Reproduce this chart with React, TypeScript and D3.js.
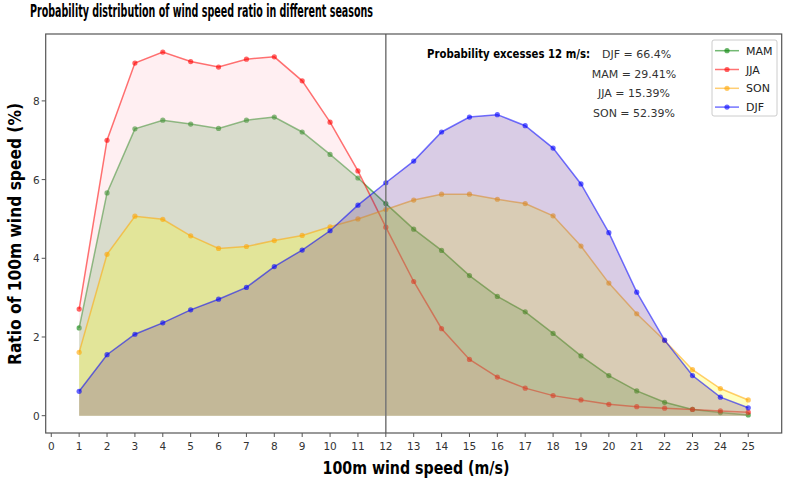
import { useMemo } from "react";
import * as d3 from "d3";

const W = 789;
const H = 482;

// wind speed bins (m/s)
const speeds = [1, 2, 3, 4, 5, 6, 7, 8, 9, 10, 11, 12, 13, 14, 15, 16, 17, 18, 19, 20, 21, 22, 23, 24, 25];

// ratio (%) per season
const mam = [2.23, 5.66, 7.29, 7.51, 7.41, 7.3, 7.51, 7.59, 7.21, 6.64, 6.04, 5.39, 4.74, 4.2, 3.56, 3.03, 2.64, 2.09, 1.52, 1.02, 0.63, 0.34, 0.16, 0.08, 0.02];
const jja = [2.71, 7.0, 8.96, 9.24, 9.0, 8.86, 9.06, 9.12, 8.51, 7.46, 6.22, 4.79, 3.41, 2.21, 1.43, 0.98, 0.7, 0.51, 0.4, 0.29, 0.23, 0.19, 0.16, 0.12, 0.09];
const son = [1.61, 4.1, 5.07, 4.99, 4.57, 4.25, 4.3, 4.45, 4.58, 4.8, 5.0, 5.24, 5.48, 5.63, 5.63, 5.5, 5.39, 5.08, 4.31, 3.37, 2.59, 1.91, 1.17, 0.69, 0.4];
const djf = [0.62, 1.55, 2.07, 2.36, 2.69, 2.96, 3.26, 3.79, 4.21, 4.7, 5.35, 5.92, 6.47, 7.21, 7.59, 7.65, 7.37, 6.8, 5.89, 4.65, 3.14, 1.92, 1.02, 0.47, 0.2];

const seasonNames = ["MAM", "JJA", "SON", "DJF"];
const lineColors = ["green", "red", "orange", "blue"];
const fillColors = ["green", "pink", "yellow", "rebeccapurple"];
const fillAlphas = [0.2, 0.25, 0.25, 0.25];

const xTicks = [0, 1, 2, 3, 4, 5, 6, 7, 8, 9, 10, 11, 12, 13, 14, 15, 16, 17, 18, 19, 20, 21, 22, 23, 24, 25];
const yTicks = [0, 2, 4, 6, 8];

const threshold = 12;
const excessLabels = ["DJF = 66.4%", "MAM = 29.41%", "JJA = 15.39%", "SON = 52.39%"];

const calibri = "'Liberation Sans Narrow', 'DejaVu Sans Condensed', 'Liberation Sans', sans-serif";
const mpl = "'DejaVu Sans', sans-serif";

export default function App() {
  const series = [mam, jja, son, djf];

  const x = useMemo(() => d3.scaleLinear().domain([-0.2, 26.2]).range([45.7, 781.7]), []);
  const y = useMemo(() => d3.scaleLinear().domain([-0.44, 9.7]).range([433, 34]), []);

  const area = d3
    .area<number>()
    .x((_, i) => x(speeds[i]))
    .y0(y(0))
    .y1((d) => y(d));
  const line = d3
    .line<number>()
    .x((_, i) => x(speeds[i]))
    .y((d) => y(d));

  const [x0, x1] = x.range();
  const [yb, yt] = y.range();

  return (
    <svg width={W} height={H} style={{ position: "absolute", left: 0, top: 0, background: "#fff" }}>
      <text x={30} y={17} fontFamily={calibri} fontWeight="bold" fontSize={18} textLength={343} lengthAdjust="spacingAndGlyphs">
        Probability distribution of wind speed ratio in different seasons
      </text>

      {series.map((vals, k) => (
        <g key={seasonNames[k]}>
          <path d={area(vals) ?? ""} fill={fillColors[k]} fillOpacity={fillAlphas[k]} />
          <path d={line(vals) ?? ""} fill="none" stroke={lineColors[k]} strokeOpacity={0.55} strokeWidth={1.5} />
          {vals.map((v, i) => (
            <circle key={i} cx={x(speeds[i])} cy={y(v)} r={2.6} fill={lineColors[k]} fillOpacity={0.6} />
          ))}
        </g>
      ))}

      {/* 12 m/s marker */}
      <line x1={x(threshold)} x2={x(threshold)} y1={yt} y2={yb} stroke="#777" strokeWidth={1.5} />

      {/* frame */}
      <rect x={x0} y={yt} width={x1 - x0} height={yb - yt} fill="none" stroke="#555" strokeWidth={1.2} />

      {/* x axis */}
      <g fontFamily={mpl} fontSize={10.5} fill="#333" textAnchor="middle">
        {xTicks.map((t) => (
          <g key={t}>
            <line x1={x(t)} x2={x(t)} y1={yb} y2={yb + 4} stroke="#555" />
            <text x={x(t)} y={yb + 17}>{t}</text>
          </g>
        ))}
      </g>
      {/* y axis */}
      <g fontFamily={mpl} fontSize={10.5} fill="#333" textAnchor="end">
        {yTicks.map((t) => (
          <g key={t}>
            <line x1={x0 - 4} x2={x0} y1={y(t)} y2={y(t)} stroke="#555" />
            <text x={x0 - 6} y={y(t) + 4}>{t}</text>
          </g>
        ))}
      </g>

      <text x={416} y={474} textAnchor="middle" fontFamily={calibri} fontWeight="bold" fontSize={17} textLength={187} lengthAdjust="spacingAndGlyphs">
        100m wind speed (m/s)
      </text>
      <text
        transform="translate(21,234) rotate(-90)"
        textAnchor="middle"
        fontFamily={calibri}
        fontWeight="bold"
        fontSize={17}
        textLength={262}
        lengthAdjust="spacingAndGlyphs"
      >
        Ratio of 100m wind speed (%)
      </text>

      {/* annotation */}
      <text x={427} y={58} fontFamily={calibri} fontWeight="bold" fontSize={12} textLength={163} lengthAdjust="spacingAndGlyphs">
        Probability excesses 12 m/s:
      </text>
      <g fontFamily={mpl} fontSize={11} fill="#333">
        {excessLabels.map((s, i) =>
          i === 0 ? (
            <text key={s} x={602} y={58}>
              {s}
            </text>
          ) : (
            <text key={s} x={634} y={58 + i * 19.6} textAnchor="middle">
              {s}
            </text>
          )
        )}
      </g>

      {/* legend */}
      <g>
        <rect x={712} y={40} width={65} height={76} rx={2} fill="#fff" fillOpacity={0.8} stroke="#ccc" />
        {seasonNames.map((n, i) => {
          const ly = 50.7 + i * 18.8;
          return (
            <g key={n}>
              <line x1={715} x2={739} y1={ly} y2={ly} stroke={lineColors[i]} strokeOpacity={0.55} strokeWidth={1.5} />
              <circle cx={727} cy={ly} r={2.6} fill={lineColors[i]} fillOpacity={0.6} />
              <text x={746} y={ly + 4} fontFamily={mpl} fontSize={11} fill="#222">
                {n}
              </text>
            </g>
          );
        })}
      </g>
    </svg>
  );
}
